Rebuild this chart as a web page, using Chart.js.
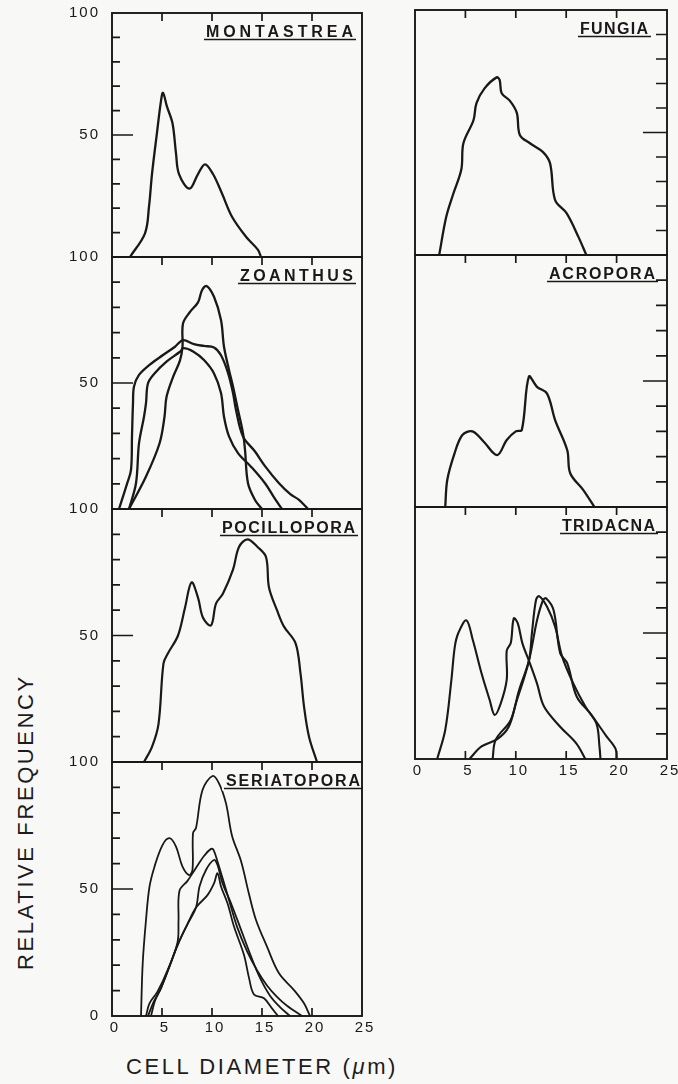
<!DOCTYPE html>
<html>
<head>
<meta charset="utf-8">
<script src="https://cdn.jsdelivr.net/npm/chart.js@4.4.1/dist/chart.umd.min.js"></script>
<style>
  html, body { margin:0; padding:0; background:#f8f8f7; }
  #page { position:relative; width:678px; height:1084px; overflow:hidden; }
  #page canvas { position:absolute; left:0; top:0; }
  .axt { position:absolute; font-family:"Liberation Sans", Arial, sans-serif; font-size:22px;
         color:#1d1b1b; letter-spacing:2.6px; white-space:nowrap; line-height:1; }
  #ylab { left:26px; top:822px; transform:translate(-50%,-50%) rotate(-90deg); }
  #xlab { left:262px; top:1067px; transform:translate(-50%,-50%); }
</style>
</head>
<body>
<div id="page">
  <div class="axt" id="ylab">RELATIVE FREQUENCY</div>
  <div class="axt" id="xlab">CELL DIAMETER (<i>μ</i>m)</div>
</div>
<script>
// Cell size distributions, relative frequency vs. diameter (µm).

const GENERA = ["MONTASTREA", "ZOANTHUS", "POCILLOPORA", "SERIATOPORA", "FUNGIA", "ACROPORA", "TRIDACNA"];

const X_TICKS = [5, 10, 15, 20];
const Y_TICKS = [10, 20, 30, 40, 50, 60, 70, 80, 90];
const X_LABEL_VALUES = [0, 5, 10, 15, 20, 25];
const X_LABELS = ["0", "5", "10", "15", "20", "25"];
const Y_LABEL_VALUES = [100, 50];
const Y_LABELS = ["100", "50"];

// [diameter, frequency]
const MONTASTREA = [[1.8,0],[3.3,9.7],[3.7,20.6],[4.0,34],[4.5,51],[4.9,64],[5.1,67.3],[5.5,61.6],[6.05,54.8],
  [6.4,42.5],[6.7,34],[7.75,28],[8.6,34],[9.3,38],[10.1,34],[11.0,26],[12.0,16.5],[13.4,8.3],[14.6,2.9],[14.9,0]];

const ZOANTHUS_A = [[0.7,0],[1.5,10],[1.9,15.5],[2.0,29],[2.1,42],[2.2,48.6],[2.7,53.2],[3.75,57.2],[5.1,61.1],
  [6.3,64.4],[7.1,67],[8.2,65.4],[9.2,64.7],[10.2,64.1],[10.9,61],[11.6,54],[12.1,46],[12.4,39.3],[13.1,28.8],
  [14.3,22.8],[15.3,17],[16.7,10.2],[17.8,6],[18.7,3.6],[19.6,0]];
const ZOANTHUS_B = [[1.7,0],[2.4,10.2],[2.7,26],[3.2,36.6],[3.4,42],[3.6,49.9],[4.25,53.8],[5.45,58.5],[6.8,62.4],
  [7.15,63.8],[8.15,62.4],[9.2,59.1],[10.2,53.8],[10.9,46],[11.2,36.6],[11.7,28.8],[12.6,22.2],[13.9,16.8],
  [15.3,10.2],[16.3,4],[17.0,0]];
const ZOANTHUS_C = [[1.7,0],[3.4,12.9],[4.75,26],[5.25,36.6],[5.45,44.4],[6.1,52.3],[6.8,59],[7.05,64.4],[7.1,73.6],
  [7.8,78.2],[8.6,82],[9.0,86.8],[9.45,88.5],[10.2,84.2],[10.9,75],[11.2,64.4],[11.7,55.2],[12.1,48.6],[12.6,39.3],
  [13.1,30.1],[13.3,23.5],[13.6,10.2],[14.3,3.6],[15.0,0]];

const POCILLOPORA = [[3.2,0],[4.0,6],[4.65,15],[5.15,39],[5.6,43],[6.6,50],[7.3,61],[7.95,71],[8.6,65],[9.1,57],
  [9.9,54],[10.4,62.6],[11.1,66.6],[12.1,76],[12.7,85],[13.55,88],[14.55,85],[15.4,81],[15.7,69],[16.5,60],
  [17.2,53.5],[18.35,47],[18.85,35],[19.2,22],[19.7,10],[20.5,0]];

const SERIATOPORA_A = [[2.9,0],[3.07,20.7],[3.4,37.8],[3.75,50.9],[4.25,58.8],[5.05,67.3],[5.75,70],[6.4,66.7],
  [7.05,58.8],[7.7,55.5],[8.05,57.5],[8.1,72],[8.4,74],[9.05,89],[10.05,94.5],[10.7,91.6],[11.4,83.7],[12.0,71],
  [12.9,61],[13.7,48],[14.4,37.8],[15.5,27.3],[16.7,16.8],[18.2,10.2],[19.2,5],[19.8,0]];
const SERIATOPORA_B = [[3.4,0],[3.75,5],[4.55,9.6],[5.55,18],[6.55,29],[6.65,37.5],[6.75,49.3],[7.55,53.2],
  [8.2,57.1],[9.2,63],[9.9,65.8],[10.15,65.4],[10.55,60.8],[11.0,55],[11.7,45.7],[12.5,35.2],[13.5,25.5],
  [14.5,18],[15.5,12],[16.5,7.5],[17.5,4],[19.0,0]];
const SERIATOPORA_C = [[3.6,0],[4.1,5],[4.5,8],[4.9,11],[5.7,19],[6.6,28.3],[7.55,36.2],[8.4,42.7],[8.75,51],
  [9.4,57.5],[10.2,61.4],[10.55,59.5],[11.05,52.3],[11.9,44.4],[12.9,34],[13.9,23.5],[14.8,15],[15.8,8],
  [16.8,3.5],[17.8,0]];
const SERIATOPORA_D = [[3.9,0],[4.3,6],[4.9,11],[5.7,19],[6.6,28.3],[7.55,36.2],[8.4,42.7],[9.55,47.6],[10.2,52.2],
  [10.55,56.2],[10.9,51],[11.55,44.4],[12.2,35.2],[13.2,24],[13.7,15],[14.2,8.5],[15.2,7],[16.0,3],[16.6,0]];

const FUNGIA = [[2.4,0],[3.1,15.6],[3.8,25],[4.6,35],[4.8,45.6],[5.8,55],[6.1,62],[6.9,68],[8.1,72.5],[8.4,71.4],
  [8.6,66],[9.4,63],[10.1,58],[10.4,49],[11.4,45.6],[12.7,42],[13.4,37.4],[13.9,22.4],[15.05,17],[16.2,7.5],[17.0,0]];

const ACROPORA = [[3.0,0],[3.2,10.7],[3.9,21],[4.7,28.6],[5.7,30],[6.8,26],[8.15,20.6],[9.1,26.6],[10.0,30],
  [10.6,30.6],[11.3,51.7],[12.1,47.7],[13.1,45],[13.9,34.5],[15.1,22.6],[15.4,13.4],[16.7,6.7],[17.8,0]];

const TRIDACNA_A = [[2.2,0],[3.0,11.5],[3.6,31],[3.95,44.6],[4.3,50],[5.1,55],[5.75,47],[6.6,34],[7.4,23.5],
  [7.9,17.5],[8.5,22],[9.1,31.5],[9.1,43],[9.5,46],[9.8,55.8],[10.2,53.8],[10.65,46],[11.3,39],[12.1,30],
  [12.8,20.8],[14.4,12.8],[16.0,6.2],[16.9,0]];
const TRIDACNA_B = [[5.4,0],[6.6,5],[8.2,8],[9.3,12.8],[10.0,22],[11.3,39],[11.6,50],[12.0,63],[12.3,64.6],
  [13.1,60.4],[13.9,52.5],[14.6,40.6],[15.7,30],[16.9,20.8],[18.0,14],[18.3,5],[18.4,0]];
const TRIDACNA_C = [[7.7,0],[8.0,7.6],[9.5,15.5],[10.3,27],[11.3,39],[12.1,55],[12.7,63],[13.0,63.8],[13.75,59],
  [14.4,42],[15.1,38],[16.05,24.7],[17.4,18],[19.0,9],[19.9,4],[20.0,0]];

// ---- layout ----------------------------------------------------------------
const W = 678, H = 1084;
const INK = "#1a1818", BG = "#f8f8f7";
const LEFT = { x0:112, x1:362 }, RIGHT = { x0:415, x1:667 };
const FONT = "'Liberation Sans', Arial, sans-serif";

const panels = [
  { col:LEFT,  top:13,  bottom:257,  title:GENERA[0], titleW:147, inset:9,  lw:2.3, series:[MONTASTREA] },
  { col:LEFT,  top:257, bottom:509,  title:GENERA[1], titleW:113, inset:9,  lw:2.3, series:[ZOANTHUS_A, ZOANTHUS_B, ZOANTHUS_C] },
  { col:LEFT,  top:509, bottom:762,  title:GENERA[2], titleW:133, inset:7,  lw:2.2, series:[POCILLOPORA] },
  { col:LEFT,  top:762, bottom:1016, title:GENERA[3], titleW:134, inset:2,  lw:1.8, last:true,
    series:[SERIATOPORA_A, SERIATOPORA_B, SERIATOPORA_C, SERIATOPORA_D] },
  { col:RIGHT, top:10,  bottom:255,  title:GENERA[4], titleW:68,  inset:19, lw:2.3, series:[FUNGIA] },
  { col:RIGHT, top:255, bottom:507,  title:GENERA[5], titleW:106, inset:12, lw:2.3, series:[ACROPORA] },
  { col:RIGHT, top:507, bottom:759,  title:GENERA[6], titleW:93,  inset:12, lw:2.1, last:true,
    series:[TRIDACNA_A, TRIDACNA_B, TRIDACNA_C] },
];

// frame, inward ticks, underlined genus name, tick labels
function framePlugin(p) {
  const left = p.col === LEFT;
  return {
    id: "frame",
    afterDatasetsDraw(chart) {
      const { ctx, chartArea:a, scales:{ x, y } } = chart;
      ctx.save();

      // genus title on a blank box
      ctx.font = `bold 16px ${FONT}`;
      ctx.letterSpacing = "0px";
      const nat = ctx.measureText(p.title).width;
      const sp = (p.titleW - nat) / (p.title.length - 1);
      ctx.letterSpacing = sp + "px";
      const tx = a.right - p.inset - p.titleW;
      const base = a.top + 23.5;
      ctx.fillStyle = BG;
      ctx.fillRect(tx - 4, a.top + 9, p.titleW + 7, base + 5 - (a.top + 9));
      ctx.fillStyle = INK;
      ctx.textAlign = "left"; ctx.textBaseline = "alphabetic";
      ctx.fillText(p.title, tx, base);
      ctx.strokeStyle = INK;
      ctx.lineWidth = 1.6;
      ctx.beginPath();
      ctx.moveTo(tx - 2, base + 3); ctx.lineTo(tx + p.titleW + 3, base + 3);
      ctx.stroke();

      // box and ticks
      ctx.lineWidth = 1.9;
      ctx.strokeRect(a.left, a.top, a.right - a.left, a.bottom - a.top);
      ctx.lineWidth = 1.7;
      ctx.beginPath();
      Y_TICKS.forEach((v) => {
        const py = y.getPixelForValue(v);
        const len = v === 50 ? (left ? 21 : 24) : (left ? 8 : 11);
        if (left) { ctx.moveTo(a.left, py); ctx.lineTo(a.left + len, py); }
        else { ctx.moveTo(a.right, py); ctx.lineTo(a.right - len, py); }
      });
      X_TICKS.forEach((v) => {
        const px = x.getPixelForValue(v);
        ctx.moveTo(px, a.top); ctx.lineTo(px, a.top + 8);
        if (p.last) { ctx.moveTo(px, a.bottom); ctx.lineTo(px, a.bottom - 8); }
      });
      ctx.stroke();

      // tick labels
      ctx.font = `15px ${FONT}`;
      ctx.letterSpacing = "2px";
      ctx.textBaseline = "middle";
      if (left) {
        const vals = p.last ? [...Y_LABEL_VALUES, 0] : Y_LABEL_VALUES;
        const txt = p.last ? [...Y_LABELS, "0"] : Y_LABELS;
        vals.forEach((v, i) => {
          const w = ctx.measureText(txt[i]).width - 2;
          ctx.fillText(txt[i], a.left - 14 - w, y.getPixelForValue(v));
        });
      }
      if (p.last) {
        X_LABEL_VALUES.forEach((v, i) => {
          const w = ctx.measureText(X_LABELS[i]).width - 2;
          ctx.fillText(X_LABELS[i], x.getPixelForValue(v) + 2 - w / 2, a.bottom + 12);
        });
      }
      ctx.restore();
    },
  };
}

function makePanel(p) {
  const canvas = document.createElement("canvas");
  canvas.width = W; canvas.height = H;
  canvas.style.width = W + "px"; canvas.style.height = H + "px";
  document.getElementById("page").appendChild(canvas);
  return new Chart(canvas, {
    type: "line",
    data: {
      datasets: p.series.map((s) => ({
        data: s.map(([x, y]) => ({ x, y })),
        borderColor: INK, borderWidth: p.lw, borderJoinStyle: "round", borderCapStyle: "round",
        pointRadius: 0, tension: 0.35, fill: false,
      })),
    },
    options: {
      responsive: false, animation: false, devicePixelRatio: 1, events: [],
      layout: { padding: { left: p.col.x0, right: W - p.col.x1, top: p.top, bottom: H - p.bottom } },
      scales: {
        x: { type: "linear", min: 0, max: 25, display: false },
        y: { type: "linear", min: 0, max: 100, display: false },
      },
      plugins: { legend: { display: false }, tooltip: { enabled: false } },
    },
    plugins: [framePlugin(p)],
  });
}

panels.forEach(makePanel);
</script>
</body>
</html>
